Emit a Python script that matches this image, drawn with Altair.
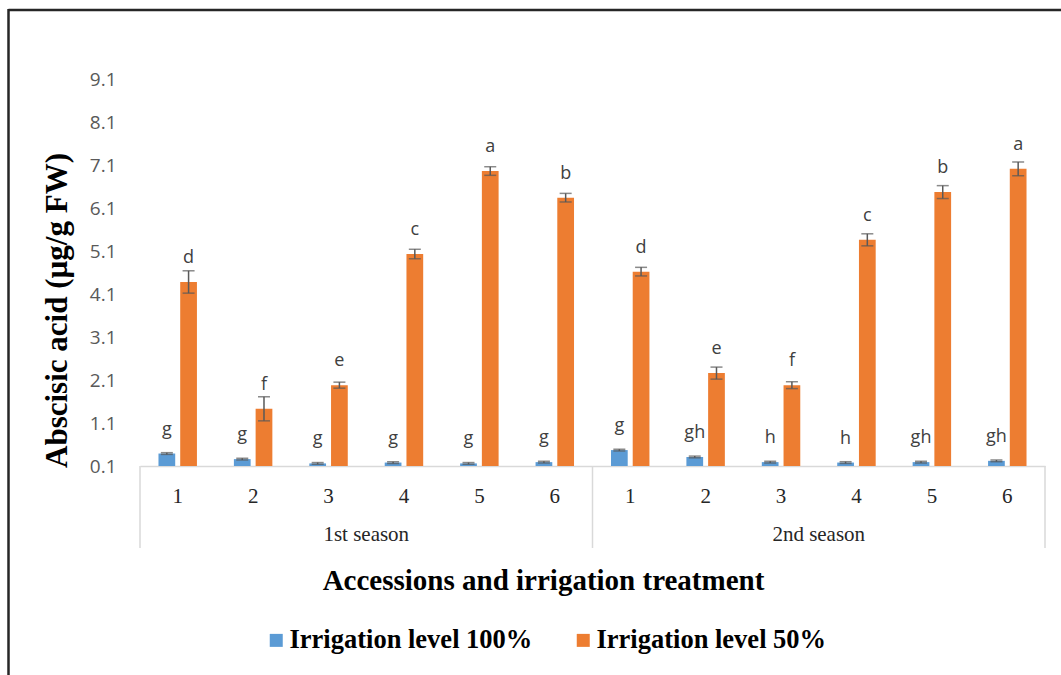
import altair as alt
import pandas as pd

# Abscisic acid content of six accessions under two irrigation levels, two seasons
seasons = ["1st season", "2nd season"]
accessions = ["1", "2", "3", "4", "5", "6"]
levels = ["Irrigation level 100%", "Irrigation level 50%"]

aba_100 = [0.39, 0.26, 0.16, 0.18, 0.16, 0.19, 0.47, 0.31, 0.19, 0.18, 0.19, 0.22]
err_100 = [0.02, 0.02, 0.02, 0.02, 0.02, 0.02, 0.02, 0.02, 0.02, 0.02, 0.02, 0.02]
letters_100 = ["g", "g", "g", "g", "g", "g", "g", "gh", "h", "h", "gh", "gh"]

aba_50 = [4.38, 1.43, 1.98, 5.03, 6.96, 6.34, 4.62, 2.26, 1.98, 5.36, 6.47, 7.01]
err_50 = [0.26, 0.28, 0.07, 0.11, 0.10, 0.10, 0.10, 0.14, 0.08, 0.14, 0.15, 0.16]
letters_50 = ["d", "f", "e", "c", "a", "b", "d", "e", "f", "c", "b", "a"]

y_ticks = [0.1, 1.1, 2.1, 3.1, 4.1, 5.1, 6.1, 7.1, 8.1, 9.1]

BLUE = "#5B9BD5"
ORANGE = "#ED7D31"
W, H = 905, 387

rows = []
for level, vals, errs, lets in [
    (levels[0], aba_100, err_100, letters_100),
    (levels[1], aba_50, err_50, letters_50),
]:
    i = 0
    for s in seasons:
        for a in accessions:
            rows.append({
                "cat": f"{s}|{a}",
                "season": s,
                "level": level,
                "value": vals[i],
                "lo": vals[i] - errs[i],
                "hi": vals[i] + errs[i],
                "letter": lets[i],
            })
            i += 1
df = pd.DataFrame(rows)
cat_order = [f"{s}|{a}" for s in seasons for a in accessions]

x_enc = alt.X(
    "cat:N",
    sort=cat_order,
    scale=alt.Scale(paddingInner=0.49, paddingOuter=0.245),
    axis=alt.Axis(
        title="Accessions and irrigation treatment",
        titleFont="Liberation Serif", titleFontSize=29, titleFontWeight="bold",
        titleColor="black", titleX=403, titleY=114, titleAlign="center",
        titleBaseline="middle",
        labelExpr="split(datum.label, '|')[1]",
        labelAngle=0, labelFont="Liberation Serif", labelFontSize=21,
        labelColor="#262626", labelPadding=30, labelBaseline="middle",
        ticks=False, grid=False, domainColor="#d9d9d9", domainWidth=1.5,
    ),
)
xo_enc = alt.XOffset("level:N", sort=levels,
                     scale=alt.Scale(paddingInner=0.23, paddingOuter=0))
y_scale = alt.Scale(domain=[0.1, 9.1], nice=False, zero=False)

base = alt.Chart(df)

bars = base.mark_bar().encode(
    x=x_enc,
    xOffset=xo_enc,
    y=alt.Y(
        "value:Q", scale=y_scale, stack=None,
        axis=alt.Axis(
            values=y_ticks, format=".1f", domain=False, ticks=False, grid=False,
            labelFont="Open Sans", labelFontSize=19, labelColor="#595959",
            labelPadding=24,
            title="Abscisic acid (µg/g FW)",
            titleFont="Liberation Serif", titleFontSize=31, titleFontWeight="bold",
            titleColor="black", titleX=-83, titleY=231, titleAngle=270,
            titleAlign="center", titleBaseline="middle",
        ),
    ),
    y2=alt.Y2(datum=0.1),
    color=alt.Color(
        "level:N",
        scale=alt.Scale(domain=levels, range=[BLUE, ORANGE]),
        legend=alt.Legend(
            title=None, orient="none", direction="horizontal",
            legendX=123, legendY=548, padding=0,
            symbolType="square", symbolSize=169, symbolStrokeWidth=0,
            labelFont="Liberation Serif", labelFontSize=26.5, labelFontWeight="bold",
            labelColor="black", labelLimit=400, labelOffset=0, columnPadding=37,
        ),
    ),
)

err_rule = base.mark_rule(color="#595959", strokeWidth=1.5).encode(
    x=alt.X("cat:N", sort=cat_order), xOffset=xo_enc,
    y=alt.Y("lo:Q", scale=y_scale), y2="hi:Q",
)
cap_lo = base.mark_tick(color="#595959", thickness=1.5, size=12,
                        orient="horizontal").encode(
    x=alt.X("cat:N", sort=cat_order), xOffset=xo_enc,
    y=alt.Y("lo:Q", scale=y_scale),
)
cap_hi = base.mark_tick(color="#595959", thickness=1.5, size=12,
                        orient="horizontal").encode(
    x=alt.X("cat:N", sort=cat_order), xOffset=xo_enc,
    y=alt.Y("hi:Q", scale=y_scale),
)
letters = base.mark_text(
    font="Open Sans", fontSize=18, color="#404040",
    baseline="alphabetic", dy=-19,
).encode(
    x=alt.X("cat:N", sort=cat_order), xOffset=xo_enc,
    y=alt.Y("value:Q", scale=y_scale),
    text="letter:N",
)

main = alt.layer(bars, err_rule, cap_lo, cap_hi, letters)

# season group labels and the dividers of the category axis
season_df = pd.DataFrame({"season": seasons})
season_text = alt.Chart(season_df).mark_text(
    font="Liberation Serif", fontSize=21, color="#262626", baseline="middle"
).encode(
    x=alt.X("season:N", sort=seasons, axis=None,
            scale=alt.Scale(paddingInner=0, paddingOuter=0)),
    y=alt.value(H + 69),
    text="season:N",
)

one = pd.DataFrame({"k": [0]})
dividers = alt.layer(*[
    alt.Chart(one).mark_rule(color="#d9d9d9", strokeWidth=1.5).encode(
        x=alt.value(xv), y=alt.value(H), y2=alt.value(H + 82)
    )
    for xv in (0, W / 2, W)
])

frame_top = alt.Chart(one).mark_rule(color="#262626", strokeWidth=2.5).encode(
    x=alt.value(-131.5), x2=alt.value(930), y=alt.value(-69)
)
frame_left = alt.Chart(one).mark_rule(color="#262626", strokeWidth=2.5).encode(
    x=alt.value(-131.5), y=alt.value(-70), y2=alt.value(610)
)

chart = alt.layer(main, season_text, dividers, frame_top, frame_left).resolve_scale(
    x="independent"
).properties(
    width=W, height=H,
    autosize=alt.AutoSizeParams(type="none"),
    padding={"left": 140, "top": 79, "right": 16, "bottom": 209},
    background="white",
).configure_view(stroke=None)

chart.save("out.html", embed_options={"renderer": "svg", "actions": False})
